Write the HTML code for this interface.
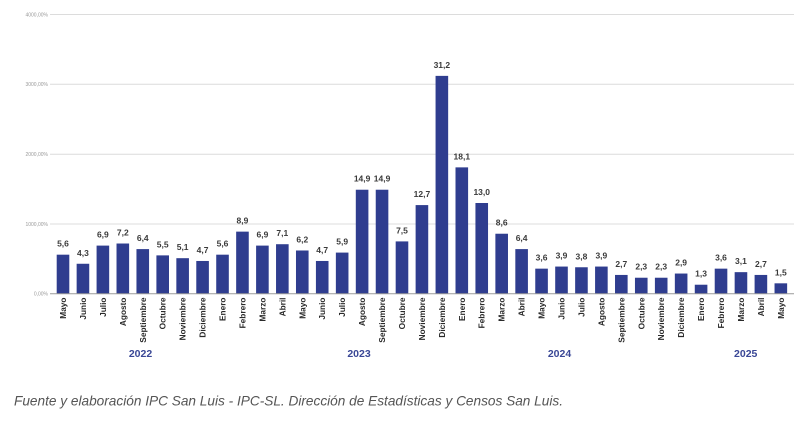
<!DOCTYPE html>
<html>
<head>
<meta charset="utf-8">
<style>
html,body{margin:0;padding:0;background:#fff;}
svg{display:block;}
</style>
</head>
<body>
<svg width="800" height="428" viewBox="0 0 800 428" xmlns="http://www.w3.org/2000/svg" font-family="Liberation Sans, Arial, sans-serif">
<g stroke="#dcdcdc" stroke-width="1">
<line x1="50" y1="14.5" x2="794" y2="14.5"/>
<line x1="50" y1="84.3" x2="794" y2="84.3"/>
<line x1="50" y1="154.2" x2="794" y2="154.2"/>
<line x1="50" y1="224" x2="794" y2="224"/>
</g>
<g font-size="5" fill="#9a9a9a" text-anchor="end">
<text x="48" y="16.3">4000,00%</text>
<text x="48" y="86.1">3000,00%</text>
<text x="48" y="156">2000,00%</text>
<text x="48" y="225.8">1000,00%</text>
<text x="48" y="295.6">0,00%</text>
</g>
<g id="bars" fill="#2f3d8f"></g>
<line x1="50" y1="293.8" x2="794" y2="293.8" stroke="#9a9a9a" stroke-width="1"/>
<g id="vals" font-size="8.5" font-weight="bold" fill="#3a3a3a" text-anchor="middle"></g>
<g id="xl" font-size="8.3" font-weight="bold" fill="#2a2a2a" text-anchor="end"></g>
<g font-size="10.5" font-weight="bold" fill="#3a4796" text-anchor="middle">
<text x="140.5" y="357">2022</text>
<text x="359" y="357">2023</text>
<text x="559.5" y="357">2024</text>
<text x="745.7" y="357">2025</text>
</g>
<text x="14" y="405.5" font-size="14" font-style="italic" fill="#555" textLength="549" lengthAdjust="spacingAndGlyphs">Fuente y elaboración IPC San Luis - IPC-SL. Dirección de Estadísticas y Censos San Luis.</text>
</svg>
<script>
var data=[["Mayo",5.6],["Junio",4.3],["Julio",6.9],["Agosto",7.2],["Septiembre",6.4],["Octubre",5.5],["Noviembre",5.1],["Diciembre",4.7],
["Enero",5.6],["Febrero",8.9],["Marzo",6.9],["Abril",7.1],["Mayo",6.2],["Junio",4.7],["Julio",5.9],["Agosto",14.9],["Septiembre",14.9],["Octubre",7.5],["Noviembre",12.7],["Diciembre",31.2],
["Enero",18.1],["Febrero",13.0],["Marzo",8.6],["Abril",6.4],["Mayo",3.6],["Junio",3.9],["Julio",3.8],["Agosto",3.9],["Septiembre",2.7],["Octubre",2.3],["Noviembre",2.3],["Diciembre",2.9],
["Enero",1.3],["Febrero",3.6],["Marzo",3.1],["Abril",2.7],["Mayo",1.5]];
var NS="http://www.w3.org/2000/svg";
var bars=document.getElementById("bars"),vals=document.getElementById("vals"),xl=document.getElementById("xl");
var base=293.8,scale=6.985;
data.forEach(function(d,i){
  var cx=63+i*19.94;
  var h=d[1]*scale;
  var top=base-h;
  var r=document.createElementNS(NS,"rect");
  r.setAttribute("x",(cx-6.3).toFixed(2));
  r.setAttribute("y",top.toFixed(2));
  r.setAttribute("width","12.6");
  r.setAttribute("height",h.toFixed(2));
  bars.appendChild(r);
  var t=document.createElementNS(NS,"text");
  t.setAttribute("x",cx.toFixed(2));
  t.setAttribute("y",(top-8).toFixed(2));
  t.textContent=d[1].toFixed(1).replace(".",",");
  vals.appendChild(t);
  var l=document.createElementNS(NS,"text");
  var ax=cx+3,ay=297.5;
  l.setAttribute("x",ax.toFixed(2));
  l.setAttribute("y",ay);
  l.setAttribute("transform","rotate(-90 "+ax.toFixed(2)+" "+ay+")");
  l.textContent=d[0];
  xl.appendChild(l);
});
</script>
</body>
</html>
